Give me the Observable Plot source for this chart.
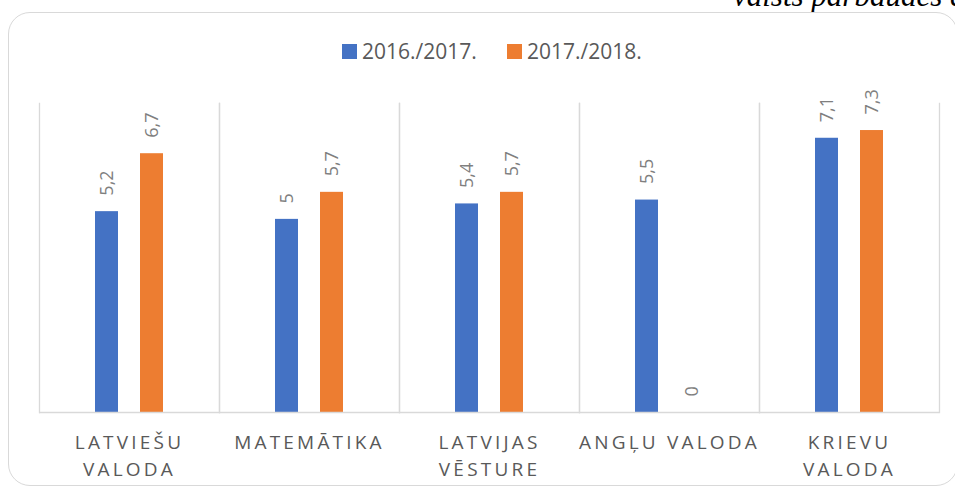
<!DOCTYPE html>
<html>
<head>
<meta charset="utf-8">
<script src="https://cdn.jsdelivr.net/npm/d3@7"></script>
<script src="https://cdn.jsdelivr.net/npm/@observablehq/plot@0.6"></script>
<style>
  html, body { margin: 0; padding: 0; background: #fff; overflow: hidden; }
  body { width: 955px; height: 487px; position: relative; font-family: "Open Sans", sans-serif; }
  #box { position: absolute; left: 8px; top: 12px; width: 950px; height: 474px; border: 1.5px solid #d9d9d9; border-radius: 22px; box-sizing: border-box; }
  #title { position: absolute; left: 733px; top: -20px; font-family: "Liberation Serif", serif; font-style: italic; font-size: 31px; line-height: 1; white-space: nowrap; color: #000; }
  #chart { position: absolute; left: 0; top: 0; }
  .item { position: absolute; top: 36px; height: 30px; display: flex; align-items: center; font-size: 21px; color: #595959; white-space: nowrap; }
  .sw { display: inline-block; width: 15px; height: 15px; margin-right: 5px; }
  svg [aria-label="fx-axis tick label"] text { letter-spacing: 3.2px; }
</style>
</head>
<body>
<div id="title">valsts pārbaudes darbos</div>
<div id="box"></div>
<div id="chart"></div>
<div id="legend"></div>
<script>
const categories = ["Latviešu valoda", "Matemātika", "Latvijas vēsture", "Angļu valoda", "Krievu valoda"];
const tickLabels = ["LATVIEŠU\nVALODA", "MATEMĀTIKA", "LATVIJAS\nVĒSTURE", "ANGĻU VALODA", "KRIEVU\nVALODA"];
const seriesNames = ["2016./2017.", "2017./2018."];
const values2016 = [5.2, 5, 5.4, 5.5, 7.1];
const values2017 = [6.7, 5.7, 5.7, 0, 7.3];
const colors = ["#4472C4", "#ED7D31"];

const data = [];
categories.forEach((c, i) => {
  data.push({category: c, series: seriesNames[0], value: values2016[i]});
  data.push({category: c, series: seriesNames[1], value: values2017[i]});
});
const labelOf = new Map(categories.map((c, i) => [c, tickLabels[i]]));
const fmt = v => String(v).replace(".", ",");

const chart = Plot.plot({
  width: 955,
  height: 487,
  marginLeft: 38,
  marginRight: 16,
  marginTop: 103,
  marginBottom: 75,
  style: {fontFamily: "Open Sans, sans-serif", background: "transparent"},
  fx: {domain: categories, padding: 0, label: null},
  x: {domain: seriesNames, paddingInner: 0.478, paddingOuter: 1.196, axis: null},
  y: {domain: [0, 8], axis: null},
  color: {domain: seriesNames, range: colors},
  marks: [
    Plot.frame({anchor: "left", stroke: "#d9d9d9", strokeWidth: 1.3}),
    Plot.frame({anchor: "right", stroke: "#d9d9d9", strokeWidth: 1.3}),
    Plot.barY(data, {fx: "category", x: "series", y: "value", fill: "series"}),
    Plot.ruleY([0], {stroke: "#d9d9d9", strokeWidth: 1.3}),
    Plot.text(data, {fx: "category", x: "series", y: "value", text: d => fmt(d.value),
      rotate: -90, textAnchor: "start", dy: -16, fill: "#7f7f7f", fontSize: 18}),
    Plot.axisFx({anchor: "bottom", tickSize: 0, tickPadding: 17, fontSize: 19, lineHeight: 1.42,
      fill: "#595959", label: null, tickFormat: c => labelOf.get(c)})
  ]
});
document.getElementById("chart").appendChild(chart);

const legend = document.getElementById("legend");
const legendLeft = [342, 507];
seriesNames.forEach((s, i) => {
  const item = document.createElement("div");
  item.className = "item";
  item.style.left = legendLeft[i] + "px";
  const sw = document.createElement("span");
  sw.className = "sw";
  sw.style.background = colors[i];
  item.appendChild(sw);
  item.appendChild(document.createTextNode(s));
  legend.appendChild(item);
});
</script>
</body>
</html>
